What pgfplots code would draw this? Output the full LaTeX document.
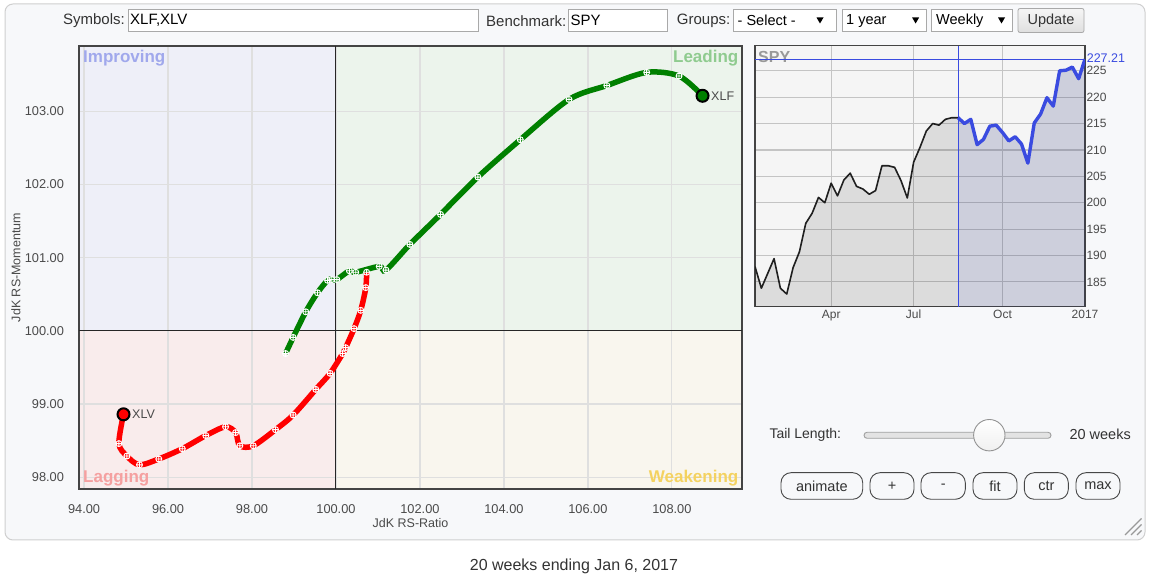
\documentclass[border=0pt]{standalone}
\usepackage{pgfplots}
\pgfplotsset{compat=1.18}
\usepackage{fontspec}
\setmainfont{Liberation Sans}
\definecolor{panelbg}{HTML}{F7F8FA}
\definecolor{panelbd}{HTML}{CFCFCF}
\definecolor{improvbg}{HTML}{EEEFF8}
\definecolor{leadbg}{HTML}{ECF4EC}
\definecolor{lagbg}{HTML}{F9ECEC}
\definecolor{weakbg}{HTML}{F9F6EE}
\definecolor{improvtx}{HTML}{A0A8EC}
\definecolor{leadtx}{HTML}{8FCB8F}
\definecolor{lagtx}{HTML}{F5A0A0}
\definecolor{weaktx}{HTML}{F4D260}
\definecolor{gridc}{HTML}{DFDFDF}
\definecolor{framec}{HTML}{444444}
\definecolor{txt}{HTML}{333333}
\definecolor{tickc}{HTML}{4A4A4A}
\definecolor{xlfg}{HTML}{008000}
\definecolor{xlvr}{HTML}{FF0000}
\definecolor{spybg}{HTML}{F5F5F5}
\definecolor{spygrid}{HTML}{C4C4C4}
\definecolor{spyblue}{HTML}{3A4BE0}
\definecolor{spyfillb}{RGB}{45,55,120}
\definecolor{boxbd}{HTML}{A9A9A9}
\newcommand{\fs}[1]{\fontsize{#1pt}{#1pt}\selectfont}
\begin{document}
\begin{tikzpicture}
\begin{scope}[x=1pt,y=1pt]
\path[use as bounding box, fill=white] (0,0) rectangle (1150,585);
% panel
\draw[rounded corners=8pt, fill=panelbg, draw=panelbd, line width=1pt] (5,45) rectangle (1145,581);
% quadrant backgrounds (behind grid)
\fill[improvbg] (79,254.2) rectangle (336,539);
\fill[leadbg] (336,254.2) rectangle (742,539);
\fill[lagbg] (79,96) rectangle (336,254.2);
\fill[weakbg] (336,96) rectangle (742,254.2);
\end{scope}

% ---------- main RRG axis ----------
\begin{axis}[
  at={(79pt,96pt)}, anchor=south west,
  scale only axis, width=663pt, height=443pt,
  xmin=93.88, xmax=109.67, ymin=97.84, ymax=103.89,
  xtick={94,96,...,108}, ytick={98,99,...,103},
  grid=major, major grid style={draw=gridc, line width=1.2pt},
  major tick length=0pt,
  axis line style={draw=framec, line width=1.4pt},
  tick label style={font=\fs{12.8}, text=tickc},
  /pgf/number format/assume math mode=true,
  xticklabel style={/pgf/number format/fixed, /pgf/number format/fixed zerofill, /pgf/number format/precision=2, yshift=-12pt},
  yticklabel style={/pgf/number format/fixed, /pgf/number format/fixed zerofill, /pgf/number format/precision=2, xshift=-11.5pt},
  xlabel={JdK RS-Ratio},
  xlabel style={at={(axis description cs:0.5,0)}, anchor=center, yshift=-34pt, font=\fs{12.5}, text=tickc},
  ylabel={JdK RS-Momentum},
  ylabel style={at={(axis description cs:-0.095,0.5)}, anchor=center, font=\fs{12.5}, text=tickc},
]
\draw[black!85, line width=1pt] (axis cs:100,97.84) -- (axis cs:100,103.89);
\draw[black!85, line width=1pt] (axis cs:93.88,100) -- (axis cs:109.67,100);

\node[anchor=base west, font=\fs{17}\bfseries, text=improvtx, inner sep=0pt, xshift=4pt, yshift=-17pt] at (rel axis cs:0,1) {Improving};
\node[anchor=base east, font=\fs{17}\bfseries, text=leadtx, inner sep=0pt, xshift=-3.5pt, yshift=-17pt] at (rel axis cs:1,1) {Leading};
\node[anchor=base west, font=\fs{17}\bfseries, text=lagtx, inner sep=0pt, xshift=4pt, yshift=6pt] at (rel axis cs:0,0) {Lagging};
\node[anchor=base east, font=\fs{17}\bfseries, text=weaktx, inner sep=0pt, xshift=-3.5pt, yshift=6pt] at (rel axis cs:1,0) {Weakening};

% XLV (red)
\addplot[smooth, tension=0.5, color=xlvr, line width=5.5pt, mark=oplus, mark size=3pt,
  mark options={draw=white, fill=xlvr, line width=0.9pt, solid}] coordinates {
(100.73,100.80) (100.71,100.59) (100.59,100.28) (100.43,100.03) (100.23,99.77)
(100.16,99.69) (99.86,99.42) (99.52,99.20) (98.98,98.85) (98.56,98.65)
(98.03,98.43) (97.71,98.43) (97.61,98.61) (97.37,98.69) (96.90,98.57)
(96.34,98.39) (95.78,98.25) (95.32,98.17) (95.02,98.29) (94.83,98.46) (94.94,98.86)
};
% XLF (green)
\addplot[smooth, tension=0.5, color=xlfg, line width=5.5pt, mark=oplus, mark size=3pt,
  mark options={draw=white, fill=xlfg, line width=0.9pt, solid}] coordinates {
(98.80,99.69) (98.98,99.91) (99.28,100.26) (99.56,100.52) (99.80,100.69)
(99.90,100.70) (100.02,100.70) (100.32,100.82) (100.47,100.80) (101.03,100.88)
(101.19,100.83) (101.76,101.18) (102.49,101.59) (103.38,102.10) (104.39,102.61)
(105.55,103.16) (106.45,103.35) (107.40,103.53) (108.17,103.48) (108.73,103.21)
};
\addplot[only marks, mark=*, mark size=6pt, mark options={fill=xlvr, draw=black, line width=2pt}] coordinates {(94.94,98.86)};
\addplot[only marks, mark=*, mark size=6pt, mark options={fill=xlfg, draw=black, line width=2pt}] coordinates {(108.73,103.21)};
\node[anchor=west, font=\fs{12.5}, text=tickc, inner sep=0pt, xshift=8.5pt] at (axis cs:94.94,98.86) {XLV};
\node[anchor=west, font=\fs{12.5}, text=tickc, inner sep=0pt, xshift=8.5pt] at (axis cs:108.73,103.21) {XLF};
\end{axis}

% ---------- SPY axis ----------
\begin{axis}[
  at={(755pt,278.3pt)}, anchor=south west,
  scale only axis, width=330pt, height=261pt,
  xmin=-52, xmax=0, ymin=180.3, ymax=229.75,
  axis background/.style={fill=spybg},
  xtick={-40,-27,-13,0}, xticklabels={Apr,Jul,Oct,2017},
  ytick={185,190,...,225}, yticklabel pos=right,
  grid=major, major grid style={draw=spygrid, line width=1.2pt},
  major tick length=0pt,
  axis line style={draw=framec, line width=1.3pt},
  tick label style={font=\fs{12}, text=tickc},
  yticklabel style={xshift=-2pt},
  /pgf/number format/assume math mode=true,
]
\addplot[draw=none, fill=black, fill opacity=0.1] coordinates {
(-52,187.9) (-51,183.8) (-49,189.4) (-48,183.8) (-47,182.7) (-46,187.7) (-45,190.7)
(-44,196.1) (-43,198.0) (-42,201.0) (-41,200.0) (-40,203.7) (-39,201.3) (-38,204.3)
(-37,205.6) (-36,203.1) (-35,202.6) (-34,201.6) (-33,202.3) (-32,207.0) (-31,207.0)
(-30,206.7) (-29,204.2) (-28,200.9) (-27,207.7) (-26,210.5) (-25,213.6) (-24,215.0)
(-23,214.7) (-22,215.8) (-21,216.1) (-20,216.1)
} \closedcycle;
\addplot[draw=none, fill=spyfillb, fill opacity=0.2] coordinates {
(-20,216.1) (-19,215.0) (-18,215.8) (-17,211.0) (-16,212.0) (-15,214.5) (-14,214.7)
(-13,213.3) (-12,211.7) (-11,212.5) (-10,211.1) (-9,207.5) (-8,215.1) (-7,216.8)
(-6,219.9) (-5,218.3) (-4,225.0) (-3,225.1) (-2,225.7) (-1,223.5) (0,227.2)
} \closedcycle;
\draw[spyblue, line width=1pt] (axis cs:-20,180.3) -- (axis cs:-20,229.75);
\addplot[color=black!88, line width=1.6pt, line join=round] coordinates {
(-52,187.9) (-51,183.8) (-49,189.4) (-48,183.8) (-47,182.7) (-46,187.7) (-45,190.7)
(-44,196.1) (-43,198.0) (-42,201.0) (-41,200.0) (-40,203.7) (-39,201.3) (-38,204.3)
(-37,205.6) (-36,203.1) (-35,202.6) (-34,201.6) (-33,202.3) (-32,207.0) (-31,207.0)
(-30,206.7) (-29,204.2) (-28,200.9) (-27,207.7) (-26,210.5) (-25,213.6) (-24,215.0)
(-23,214.7) (-22,215.8) (-21,216.1) (-20,216.1)
};
\addplot[color=spyblue, line width=3.4pt, line join=round] coordinates {
(-20,216.1) (-19,215.0) (-18,215.8) (-17,211.0) (-16,212.0) (-15,214.5) (-14,214.7)
(-13,213.3) (-12,211.7) (-11,212.5) (-10,211.1) (-9,207.5) (-8,215.1) (-7,216.8)
(-6,219.9) (-5,218.3) (-4,225.0) (-3,225.1) (-2,225.7) (-1,223.5) (0,227.2)
};
\node[anchor=north west, font=\fs{16}\bfseries, text=black!40, inner sep=0pt, xshift=3pt, yshift=-5pt] at (rel axis cs:0,1) {SPY};
\draw[spyblue, line width=1pt] (axis cs:-52,227.21) -- (axis cs:0,227.21);
\end{axis}

\begin{scope}[x=1pt,y=1pt]
% last price label of SPY (outside the plot area)
\node[anchor=west, font=\fs{12.5}, text=spyblue, fill=panelbg, inner sep=0.6pt] at (1086,526.5) {227.21};
% ---------- header ----------
\node[anchor=east, font=\fs{15}, text=txt, inner sep=0pt] at (125,564.3) {Symbols:};
\draw[fill=white, draw=boxbd, line width=0.8pt] (128.4,553.3) rectangle (478.4,575.7);
\node[anchor=west, font=\fs{15}, text=black, inner sep=0pt] at (130,564.3) {XLF,XLV};
\node[anchor=east, font=\fs{15}, text=txt, inner sep=0pt] at (566.4,564.3) {Benchmark:};
\draw[fill=white, draw=boxbd, line width=0.8pt] (568.6,553.3) rectangle (667.6,575.7);
\node[anchor=west, font=\fs{15}, text=black, inner sep=0pt] at (570.5,564.3) {SPY};
\node[anchor=east, font=\fs{15}, text=txt, inner sep=0pt] at (730.5,564.3) {Groups:};
\draw[fill=white, draw=boxbd, line width=0.8pt] (733.7,553.3) rectangle (836.4,575.7);
\node[anchor=west, font=\fs{14.5}, text=black, inner sep=0pt] at (737.5,564.3) {- Select -};
\fill[black] (816.5,567.5) -- (823.5,567.5) -- (820,561.5) -- cycle;
\draw[fill=white, draw=boxbd, line width=0.8pt] (842,553.3) rectangle (926,575.7);
\node[anchor=west, font=\fs{14.5}, text=black, inner sep=0pt] at (846,564.3) {1 year};
\fill[black] (912.1,567.5) -- (919.1,567.5) -- (915.6,561.5) -- cycle;
\draw[fill=white, draw=boxbd, line width=0.8pt] (931.8,553.3) rectangle (1012.5,575.7);
\node[anchor=west, font=\fs{14.5}, text=black, inner sep=0pt] at (936,564.3) {Weekly};
\fill[black] (998,567.5) -- (1005,567.5) -- (1001.5,561.5) -- cycle;
\draw[rounded corners=2pt, top color=gray!8, bottom color=gray!25, draw=boxbd, line width=0.8pt] (1018,552.5) rectangle (1084,576.5);
\node[font=\fs{14.5}, text=txt, inner sep=0pt] at (1051,564.3) {Update};

% ---------- slider ----------
\node[anchor=west, font=\fs{14}, text=txt, inner sep=0pt] at (769.3,150.5) {Tail Length:};
\draw[rounded corners=3pt, fill=gray!22, draw=gray!75, line width=0.9pt] (864,146.7) rectangle (1051,152.7);
\draw[draw=gray!85, line width=0.9pt, top color=white, bottom color=gray!12] (989.3,149.8) circle (15.7);
\node[anchor=west, font=\fs{14.5}, text=txt, inner sep=0pt] at (1069.3,150.5) {20 weeks};

% ---------- buttons ----------
\foreach \a/\b/\t in {781/862.7/animate, 870/914/+, 921/965.3/-, 973/1017/fit, 1024.3/1068.3/ctr, 1076/1120/max}{
  \draw[rounded corners=10pt, fill=panelbg, draw=black!72, line width=0.9pt] (\a,85.7) rectangle (\b,112.3);
  \node[font=\fs{14.5}, text=txt, inner sep=0pt] at ({(\a+\b)/2},99) {\t};
}
% resize grip
\draw[gray!80, line width=1.1pt] (1125,50) -- (1141.5,66.5);
\draw[gray!80, line width=1.1pt] (1131,50) -- (1141.5,60.5);
\draw[gray!80, line width=1.1pt] (1137,50) -- (1141.5,54.5);

% caption
\node[font=\fs{16}, text=txt, inner sep=0pt] at (574,19) {20 weeks ending Jan 6, 2017};
\end{scope}
\end{tikzpicture}
\end{document}
